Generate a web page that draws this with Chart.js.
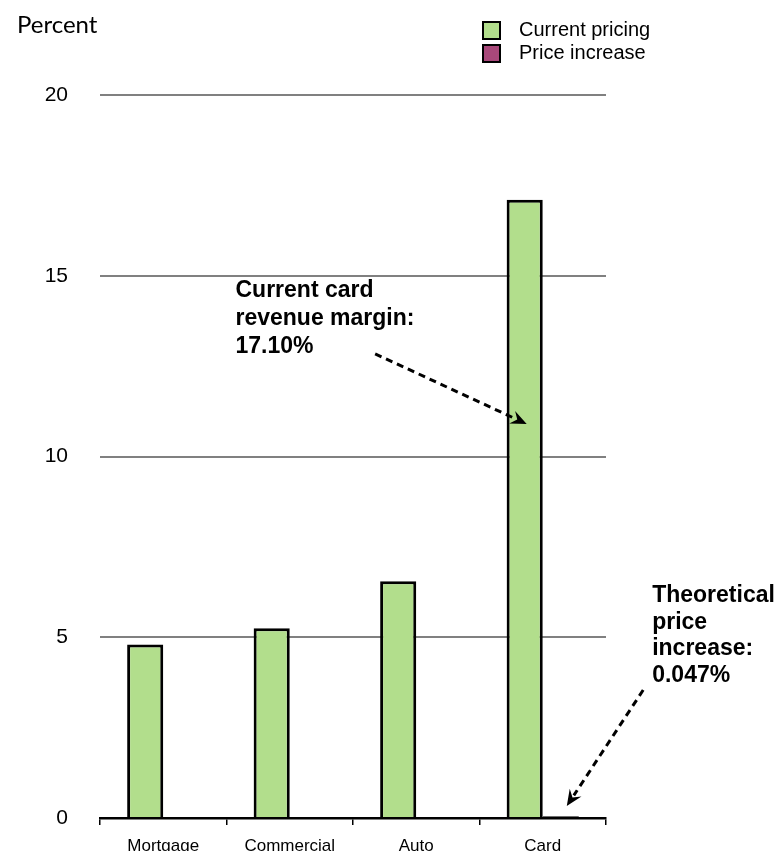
<!DOCTYPE html>
<html>
<head>
<meta charset="utf-8">
<script src="https://cdn.jsdelivr.net/npm/chart.js@4/dist/chart.umd.min.js"></script>
<style>
  html, body { margin: 0; padding: 0; background: #fff; }
  #wrap { width: 779px; height: 851px; position: relative; }
</style>
</head>
<body>
<div id="wrap"><canvas id="chart" width="779" height="851"></canvas></div>
<script>
// Loan categories and revenue margins (percent)
const categories = ['Mortgage', 'Commercial', 'Auto', 'Card'];
const currentPricing = [4.8, 5.25, 6.55, 17.10];
const priceIncrease = [0.02, 0.02, 0.03, 0.047];
const yTickValues = [0, 5, 10, 15, 20];
const seriesNames = ['Current pricing', 'Price increase'];

const GREEN = '#b2de8c';
const PURPLE = '#a8487a';
const SANS = '"Liberation Sans", Arial, Helvetica, sans-serif';

// Draws a dashed arrow between two points given in data units
function dashedArrow(ctx, x, y, from, to) {
  const x0 = x.getPixelForValue(from[0]), y0 = y.getPixelForValue(from[1]);
  const x1 = x.getPixelForValue(to[0]), y1 = y.getPixelForValue(to[1]);
  const ang = Math.atan2(y1 - y0, x1 - x0);
  const head = 16, half = 7;
  const bx = x1 - Math.cos(ang) * head * 0.8, by = y1 - Math.sin(ang) * head * 0.8;
  ctx.save();
  ctx.strokeStyle = '#000';
  ctx.lineWidth = 3;
  ctx.setLineDash([7, 5]);
  ctx.beginPath();
  ctx.moveTo(x0, y0);
  ctx.lineTo(bx, by);
  ctx.stroke();
  ctx.setLineDash([]);
  // barbed arrowhead
  const cx = x1 - Math.cos(ang) * head, cy = y1 - Math.sin(ang) * head;
  const nx = -Math.sin(ang), ny = Math.cos(ang);
  const notchX = x1 - Math.cos(ang) * head * 0.65, notchY = y1 - Math.sin(ang) * head * 0.65;
  ctx.fillStyle = '#000';
  ctx.beginPath();
  ctx.moveTo(x1, y1);
  ctx.lineTo(cx + nx * half, cy + ny * half);
  ctx.lineTo(notchX, notchY);
  ctx.lineTo(cx - nx * half, cy - ny * half);
  ctx.closePath();
  ctx.fill();
  ctx.restore();
}

function textBlock(ctx, x, y, anchor, lines, lineHeight) {
  const px = x.getPixelForValue(anchor[0]);
  const py = y.getPixelForValue(anchor[1]);
  ctx.save();
  ctx.fillStyle = '#000';
  ctx.font = 'bold 23px ' + SANS;
  ctx.textAlign = 'left';
  ctx.textBaseline = 'alphabetic';
  lines.forEach((t, k) => ctx.fillText(t, px, py + k * lineHeight));
  ctx.restore();
}

const notesPlugin = {
  id: 'notes',
  afterDraw(chart) {
    const { ctx, scales: { x, y } } = chart;

    // axis unit label
    ctx.save();
    ctx.fillStyle = '#000';
    ctx.font = '24px Lato, "Open Sans", sans-serif';
    ctx.textBaseline = 'alphabetic';
    ctx.fillText('Percent', 17, 33);
    ctx.restore();

    // legend
    ctx.save();
    chart.data.datasets.forEach((ds, k) => {
      const top = 22 + k * 23;
      ctx.fillStyle = ds.backgroundColor;
      ctx.fillRect(483, top, 17, 17);
      ctx.strokeStyle = '#000';
      ctx.lineWidth = 2;
      ctx.strokeRect(483, top, 17, 17);
      ctx.fillStyle = '#000';
      ctx.font = '20px ' + SANS;
      ctx.textBaseline = 'alphabetic';
      ctx.fillText(ds.label, 519, top + 14);
    });
    ctx.restore();

    // callouts
    const cardIdx = categories.indexOf('Card');
    textBlock(ctx, x, y, [0.571, 14.41],
      ['Current card', 'revenue margin:', currentPricing[cardIdx].toFixed(2) + '%'], 28);
    dashedArrow(ctx, x, y, [1.675, 12.84], [2.873, 10.90]);

    textBlock(ctx, x, y, [3.865, 5.975],
      ['Theoretical', 'price', 'increase:', priceIncrease[cardIdx].toFixed(3) + '%'], 26.5);
    dashedArrow(ctx, x, y, [3.794, 3.54], [3.19, 0.33]);
  }
};

new Chart(document.getElementById('chart'), {
  type: 'bar',
  data: {
    labels: categories,
    datasets: [
      {
        label: seriesNames[0],
        data: currentPricing,
        backgroundColor: GREEN,
        borderColor: '#000',
        borderWidth: 3,
        borderSkipped: 'start'
      },
      {
        label: seriesNames[1],
        data: priceIncrease,
        backgroundColor: PURPLE,
        borderColor: '#000',
        borderWidth: 2,
        borderSkipped: false
      }
    ]
  },
  options: {
    responsive: false,
    animation: false,
    events: [],
    categoryPercentage: 0.571,
    barPercentage: 1.0,
    layout: { padding: { top: 95, right: 173, bottom: 0, left: 0 } },
    plugins: {
      legend: { display: false },
      title: { display: false },
      tooltip: { enabled: false }
    },
    scales: {
      x: {
        offset: true,
        grid: {
          display: true,
          offset: true,
          drawOnChartArea: false,
          drawTicks: true,
          tickLength: 7,
          color: '#000',
          lineWidth: 1.5
        },
        border: { display: true, color: '#000', width: 2.5 },
        ticks: {
          color: '#000',
          font: { family: SANS, size: 17 },
          padding: 11,
          maxRotation: 0
        },
        afterFit(scale) { scale.height = 33; }
      },
      y: {
        min: 0,
        max: 20,
        afterBuildTicks(scale) { scale.ticks = yTickValues.map(v => ({ value: v })); },
        grid: {
          color: ctx => (ctx.tick && ctx.tick.value === 0) ? '#000' : '#808080',
          lineWidth: 2,
          drawTicks: true,
          tickLength: 28,
          tickColor: 'rgba(0,0,0,0)'
        },
        border: { display: false },
        ticks: {
          color: '#000',
          font: { family: SANS, size: 21 },
          padding: 4
        },
        afterFit(scale) { scale.width = 100; }
      }
    }
  },
  plugins: [notesPlugin]
});
</script>
</body>
</html>
